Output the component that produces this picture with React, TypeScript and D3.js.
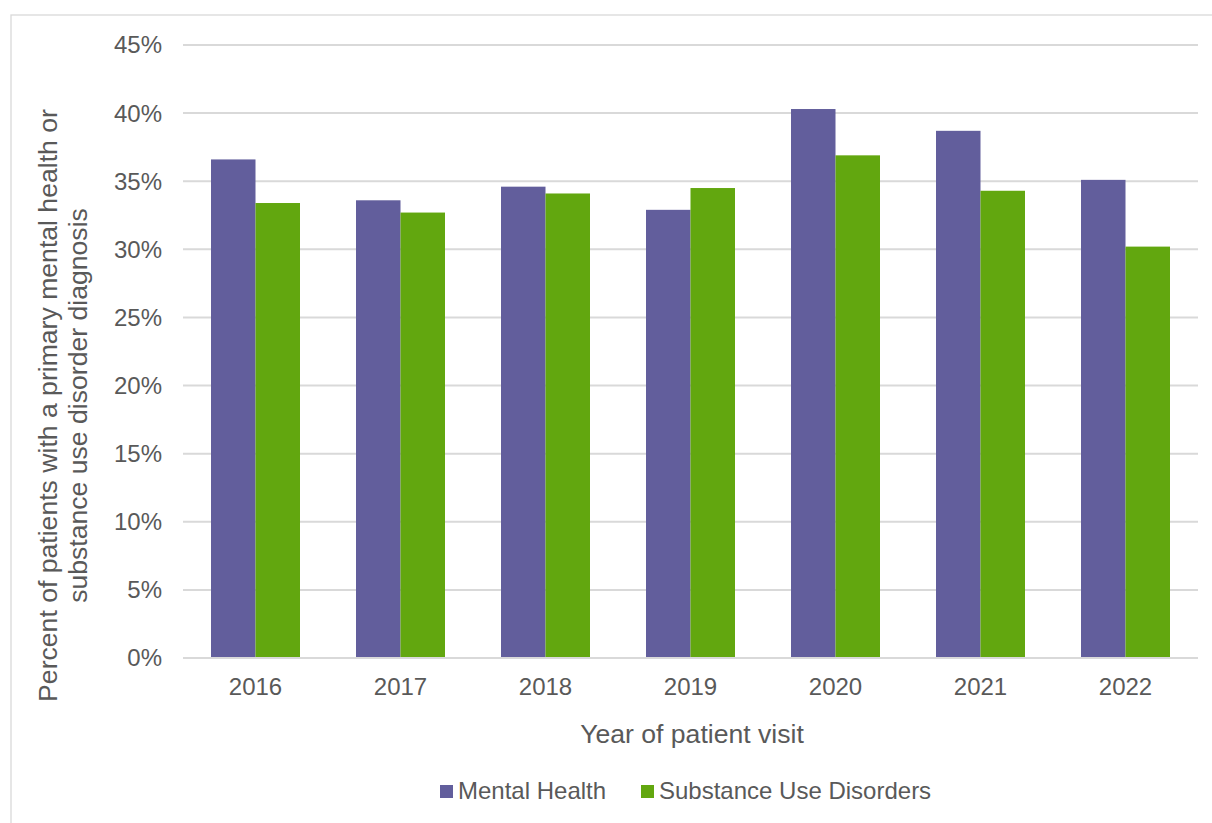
import React from "react";
import * as d3 from "d3";

const years = ["2016", "2017", "2018", "2019", "2020", "2021", "2022"];
const mentalHealth = [36.6, 33.6, 34.6, 32.9, 40.3, 38.7, 35.1];
const substanceUse = [33.4, 32.7, 34.1, 34.5, 36.9, 34.3, 30.2];
const yTicks = [0, 5, 10, 15, 20, 25, 30, 35, 40, 45];
const seriesNames = ["Mental Health", "Substance Use Disorders"];
const colors = ["#625e9c", "#62a70f"];

export default function App() {
  const W = 1212, H = 823;
  const left = 183, right = 1198, top = 45, bottom = 658;
  const x = d3.scaleBand<string>().domain(years).range([left, right]).paddingInner(0).paddingOuter(0);
  const y = d3.scaleLinear().domain([0, 45]).range([bottom, top]);
  const groupW = 89;
  const inner = d3.scaleBand<number>().domain([0, 1]).range([0, groupW]);
  const font = "'Liberation Sans', Arial, sans-serif";
  const txt = "#595959";
  const series = [mentalHealth, substanceUse];
  return (
    <svg width={W} height={H} style={{ position: "absolute", left: 0, top: 0 }} fontFamily={font}>
      <rect x={0} y={0} width={W} height={H} fill="#fff" />
      <rect x={11} y={15} width={W + 10} height={H + 10} fill="none" stroke="#d9d9d9" strokeWidth={1.3} />
      {yTicks.map((t) => (
        <g key={t}>
          <line x1={left} x2={right} y1={y(t)} y2={y(t)} stroke="#d9d9d9" strokeWidth={2} />
          <text x={162} y={y(t)} dy="0.35em" textAnchor="end" fontSize={24} fill={txt}>{t}%</text>
        </g>
      ))}
      {years.map((yr, i) => {
        const cx = (x(yr) as number) + x.bandwidth() / 2;
        const g0 = cx - groupW / 2;
        return (
          <g key={yr}>
            {series.map((s, j) => (
              <rect key={j} x={g0 + (inner(j) as number)} y={y(s[i])} width={inner.bandwidth()}
                height={bottom - y(s[i])} fill={colors[j]} />
            ))}
            <text x={cx} y={695} textAnchor="middle" fontSize={24} fill={txt}>{yr}</text>
          </g>
        );
      })}
      <line x1={left} x2={right} y1={bottom} y2={bottom} stroke="#d9d9d9" strokeWidth={2} />
      <text x={692} y={743} textAnchor="middle" fontSize={26.6} fill={txt}>Year of patient visit</text>
      <g transform="translate(57,405.5) rotate(-90)">
        <text x={0} y={0} textAnchor="middle" fontSize={26.6} fill={txt}>Percent of patients with a primary mental health or</text>
        <text x={0} y={30} textAnchor="middle" fontSize={26.6} fill={txt}>substance use disorder diagnosis</text>
      </g>
      <g>
        <rect x={440} y={785} width={13} height={13} fill={colors[0]} />
        <text x={458} y={799} fontSize={24} fill={txt}>{seriesNames[0]}</text>
        <rect x={641} y={785} width={13} height={13} fill={colors[1]} />
        <text x={659} y={799} fontSize={24} fill={txt}>{seriesNames[1]}</text>
      </g>
    </svg>
  );
}
